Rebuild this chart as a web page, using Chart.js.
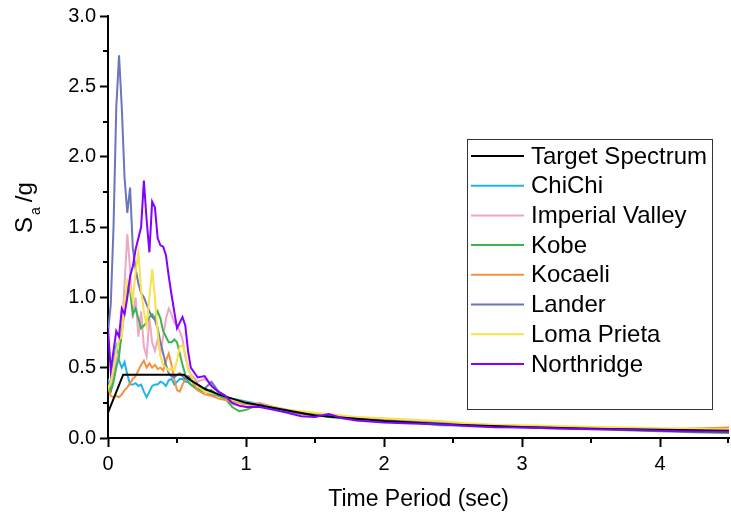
<!DOCTYPE html>
<html>
<head>
<meta charset="utf-8">
<script src="https://cdn.jsdelivr.net/npm/chart.js@4.4.1/dist/chart.umd.min.js"></script>
<style>
  body { margin: 0; background: #fff; }
  #wrap { width: 731px; height: 513px; }
</style>
</head>
<body>
<div id="wrap"><canvas id="spectraChart" width="731" height="513"></canvas></div>
<script>
// periods (sec) shared by the recorded ground motions
const periods = [
  0, 0.02, 0.04, 0.06, 0.08, 0.1, 0.12, 0.14, 0.16, 0.18,
  0.2, 0.22, 0.24, 0.26, 0.28, 0.3, 0.32, 0.34, 0.36, 0.38,
  0.4, 0.42, 0.44, 0.46, 0.48, 0.5, 0.52, 0.54, 0.56, 0.58,
  0.6, 0.65, 0.7, 0.75, 0.8, 0.85, 0.9, 0.95, 1.0,
  1.1, 1.2, 1.3, 1.4, 1.5, 1.6, 1.7, 1.8,
  2.0, 2.2, 2.4, 2.6, 2.8, 3.0, 3.25, 3.5, 3.75, 4.0, 4.25, 4.5
];

// design target spectrum
const targetPeriods = [0, 0.11, 0.55, 0.6, 0.7, 0.8, 1.0, 1.5, 2.0, 2.5, 3.0, 3.5, 4.0, 4.5];
const targetSa = [0.18, 0.45, 0.45, 0.41, 0.35, 0.31, 0.25, 0.16, 0.12, 0.095, 0.078, 0.066, 0.058, 0.052];

// Sa/g of each record at the periods above
const chiChi = [
  0.42, 0.36, 0.55, 0.65, 0.55, 0.50, 0.54, 0.45, 0.38, 0.38,
  0.39, 0.37, 0.38, 0.33, 0.29, 0.33, 0.37, 0.38, 0.38, 0.40,
  0.39, 0.37, 0.41, 0.42, 0.38, 0.40, 0.42, 0.42, 0.40, 0.40,
  0.38, 0.35, 0.33, 0.31, 0.30, 0.29, 0.28, 0.27, 0.26,
  0.24, 0.22, 0.20, 0.18, 0.17, 0.16, 0.15, 0.14,
  0.13, 0.11, 0.09, 0.088, 0.085, 0.075, 0.07, 0.068, 0.062, 0.058, 0.05, 0.045
];
const imperialValley = [
  0.35, 0.38, 0.45, 0.55, 0.62, 0.75, 1.10, 1.45, 1.20, 0.85,
  1.00, 0.72, 0.90, 0.65, 0.58, 0.85, 0.68, 0.62, 0.70, 0.60,
  0.72, 0.85, 0.92, 0.88, 0.82, 0.80, 0.76, 0.70, 0.58, 0.50,
  0.45, 0.40, 0.42, 0.38, 0.32, 0.28, 0.24, 0.23, 0.24,
  0.25, 0.22, 0.20, 0.18, 0.17, 0.16, 0.15, 0.145,
  0.13, 0.12, 0.11, 0.10, 0.09, 0.085, 0.078, 0.072, 0.066, 0.06, 0.058, 0.06
];
const kobe = [
  0.38, 0.33, 0.40, 0.50, 0.58, 0.75, 0.90, 1.08, 1.05, 0.88,
  0.92, 0.85, 0.78, 0.80, 0.82, 0.86, 0.88, 0.85, 0.90, 0.85,
  0.76, 0.72, 0.68, 0.68, 0.70, 0.68, 0.60, 0.52, 0.45, 0.40,
  0.38, 0.34, 0.33, 0.34, 0.30, 0.28, 0.22, 0.19, 0.20,
  0.24, 0.21, 0.19, 0.175, 0.17, 0.15, 0.14, 0.135,
  0.125, 0.115, 0.105, 0.095, 0.088, 0.08, 0.072, 0.065, 0.055, 0.048, 0.04, 0.035
];
const kocaeli = [
  0.36, 0.30, 0.29, 0.30, 0.29, 0.31, 0.34, 0.36, 0.39, 0.42,
  0.44, 0.48, 0.52, 0.55, 0.50, 0.53, 0.50, 0.52, 0.49, 0.50,
  0.48, 0.55, 0.60, 0.52, 0.42, 0.34, 0.33, 0.38, 0.42, 0.44,
  0.42, 0.34, 0.31, 0.30, 0.28, 0.27, 0.26, 0.25, 0.24,
  0.23, 0.21, 0.19, 0.17, 0.16, 0.16, 0.15, 0.14,
  0.13, 0.12, 0.11, 0.10, 0.09, 0.085, 0.078, 0.072, 0.066, 0.062, 0.068, 0.075
];
const lander = [
  0.75, 0.95, 1.50, 2.35, 2.72, 2.35, 1.85, 1.60, 1.78, 1.35,
  1.20, 1.10, 1.03, 1.00, 0.95, 0.90, 0.86, 0.84, 0.78, 0.68,
  0.60, 0.52, 0.46, 0.44, 0.43, 0.45, 0.46, 0.44, 0.42, 0.44,
  0.43, 0.38, 0.35, 0.40, 0.33, 0.30, 0.27, 0.26, 0.25,
  0.23, 0.21, 0.19, 0.175, 0.165, 0.16, 0.15, 0.14,
  0.125, 0.115, 0.105, 0.095, 0.088, 0.082, 0.078, 0.075, 0.07, 0.062, 0.055, 0.05
];
const lomaPrieta = [
  0.35, 0.40, 0.50, 0.62, 0.70, 0.72, 0.95, 1.12, 1.08, 0.98,
  1.18, 1.32, 1.05, 0.90, 0.80, 1.00, 1.20, 1.00, 0.75, 0.58,
  0.52, 0.50, 0.48, 0.50, 0.48, 0.55, 0.65, 0.66, 0.60, 0.50,
  0.44, 0.37, 0.33, 0.32, 0.31, 0.30, 0.27, 0.26, 0.25,
  0.23, 0.22, 0.20, 0.19, 0.18, 0.17, 0.16, 0.15,
  0.14, 0.13, 0.12, 0.105, 0.095, 0.09, 0.085, 0.08, 0.075, 0.07, 0.065, 0.06
];
const northridge = [
  0.78, 0.48, 0.62, 0.76, 0.72, 0.92, 0.88, 1.00, 1.15, 1.22,
  1.34, 1.42, 1.50, 1.83, 1.55, 1.32, 1.68, 1.64, 1.42, 1.37,
  1.36, 1.30, 1.15, 1.02, 0.90, 0.78, 0.82, 0.86, 0.80, 0.62,
  0.50, 0.43, 0.44, 0.37, 0.33, 0.30, 0.25, 0.23, 0.22,
  0.22, 0.20, 0.18, 0.155, 0.15, 0.17, 0.14, 0.125,
  0.11, 0.103, 0.098, 0.085, 0.077, 0.075, 0.068, 0.062, 0.058, 0.052, 0.047, 0.045
];

const xTicks = [0, 1, 2, 3, 4];
const yTicks = [0, 0.5, 1.0, 1.5, 2.0, 2.5, 3.0];

const FONT = 'Arial, "Liberation Sans", sans-serif';

function toPoints(xs, ys) {
    return xs.map((x, i) => ({ x: x, y: ys[i] }));
}

function series(label, xs, ys, color, order) {
    return {
        label: label,
        data: toPoints(xs, ys),
        borderColor: color,
        backgroundColor: color,
        borderWidth: 2,
        pointRadius: 0,
        showLine: true,
        tension: 0,
        order: order
    };
}

// the legend sits inside the plot area with a frame around it
const boxLegend = {
    id: "boxLegend",
    afterDraw(chart) {
        const ctx = chart.ctx;
        const left = 467, top = 139, w = 245, h = 270;
        ctx.save();
        ctx.fillStyle = "#fff";
        ctx.fillRect(left, top, w, h);
        ctx.strokeStyle = "#333";
        ctx.lineWidth = 1;
        ctx.strokeRect(left + 0.5, top + 0.5, w, h);
        ctx.font = "24px " + FONT;
        ctx.textBaseline = "middle";
        ctx.fillStyle = "#000";
        chart.data.datasets.forEach((ds, i) => {
            const y = top + 17 + i * 29.7;
            ctx.strokeStyle = ds.borderColor;
            ctx.lineWidth = 2;
            ctx.beginPath();
            ctx.moveTo(left + 4, y);
            ctx.lineTo(left + 57, y);
            ctx.stroke();
            ctx.fillText(ds.label, left + 64, y + 1);
        });
        ctx.restore();
    }
};

// minor ticks between the labelled ones, plus both axis titles
const axisExtras = {
    id: "axisExtras",
    afterDraw(chart) {
        const ctx = chart.ctx;
        const xs = chart.scales.x, ys = chart.scales.y;
        const area = chart.chartArea;
        ctx.save();
        ctx.strokeStyle = "#000";
        ctx.lineWidth = 2;
        ctx.beginPath();
        for (let v = 0.25; v < 3; v += 0.5) {
            const py = Math.round(ys.getPixelForValue(v));
            ctx.moveTo(area.left - 5, py);
            ctx.lineTo(area.left, py);
        }
        for (let v = 0.5; v <= 4.5; v += 1) {
            const px = Math.min(Math.round(xs.getPixelForValue(v)), area.right - 1);
            ctx.moveTo(px, area.bottom);
            ctx.lineTo(px, area.bottom + 5);
        }
        ctx.stroke();

        ctx.fillStyle = "#000";
        ctx.font = "23px " + FONT;
        ctx.textAlign = "center";
        ctx.textBaseline = "alphabetic";
        ctx.fillText("Time Period (sec)", (area.left + area.right) / 2, 506);

        // S_a /g, rotated
        ctx.translate(32, 233);
        ctx.rotate(-Math.PI / 2);
        ctx.textAlign = "left";
        ctx.font = "24px " + FONT;
        ctx.fillText("S", 0, 0);
        const sw = ctx.measureText("S").width;
        ctx.font = "14px " + FONT;
        ctx.fillText("a", sw + 2, 8);
        const aw = ctx.measureText("a").width;
        ctx.font = "24px " + FONT;
        ctx.fillText("/g", sw + aw + 7, 0);
        ctx.restore();
    }
};

document.addEventListener("DOMContentLoaded", function () {
    const ctx = document.getElementById("spectraChart");

    new Chart(ctx, {
        type: "scatter",
        data: {
            datasets: [
                series("Target Spectrum", targetPeriods, targetSa, "#000000", 1),
                series("ChiChi", periods, chiChi, "#22b4e6", 8),
                series("Imperial Valley", periods, imperialValley, "#eea6c6", 7),
                series("Kobe", periods, kobe, "#3cb44e", 6),
                series("Kocaeli", periods, kocaeli, "#f5923e", 5),
                series("Lander", periods, lander, "#6b77ba", 4),
                series("Loma Prieta", periods, lomaPrieta, "#f6e24a", 3),
                series("Northridge", periods, northridge, "#8400ff", 0)
            ]
        },
        options: {
            responsive: false,
            animation: false,
            layout: { padding: { top: 16, right: 2, left: 0, bottom: 0 } },
            plugins: {
                legend: { display: false },
                tooltip: { enabled: false }
            },
            scales: {
                x: {
                    type: "linear",
                    min: 0,
                    max: 4.5,
                    afterFit(scale) { scale.height = 75; },
                    afterBuildTicks(scale) { scale.ticks = xTicks.map(v => ({ value: v })); },
                    border: { display: true, color: "#000", width: 2 },
                    grid: { drawOnChartArea: false, drawTicks: true, tickLength: 9, tickColor: "#000", tickWidth: 2 },
                    ticks: {
                        color: "#000",
                        padding: 5,
                        maxRotation: 0,
                        font: { family: FONT, size: 20 },
                        callback: v => String(v)
                    }
                },
                y: {
                    type: "linear",
                    min: 0,
                    max: 3,
                    afterFit(scale) { scale.width = 108; },
                    afterBuildTicks(scale) { scale.ticks = yTicks.map(v => ({ value: v })); },
                    border: { display: true, color: "#000", width: 2 },
                    grid: { drawOnChartArea: false, drawTicks: true, tickLength: 8, tickColor: "#000", tickWidth: 2 },
                    ticks: {
                        color: "#000",
                        padding: 4,
                        font: { family: FONT, size: 20 },
                        callback: v => Number(v).toFixed(1)
                    }
                }
            }
        },
        plugins: [boxLegend, axisExtras]
    });
});
</script>
</body>
</html>
